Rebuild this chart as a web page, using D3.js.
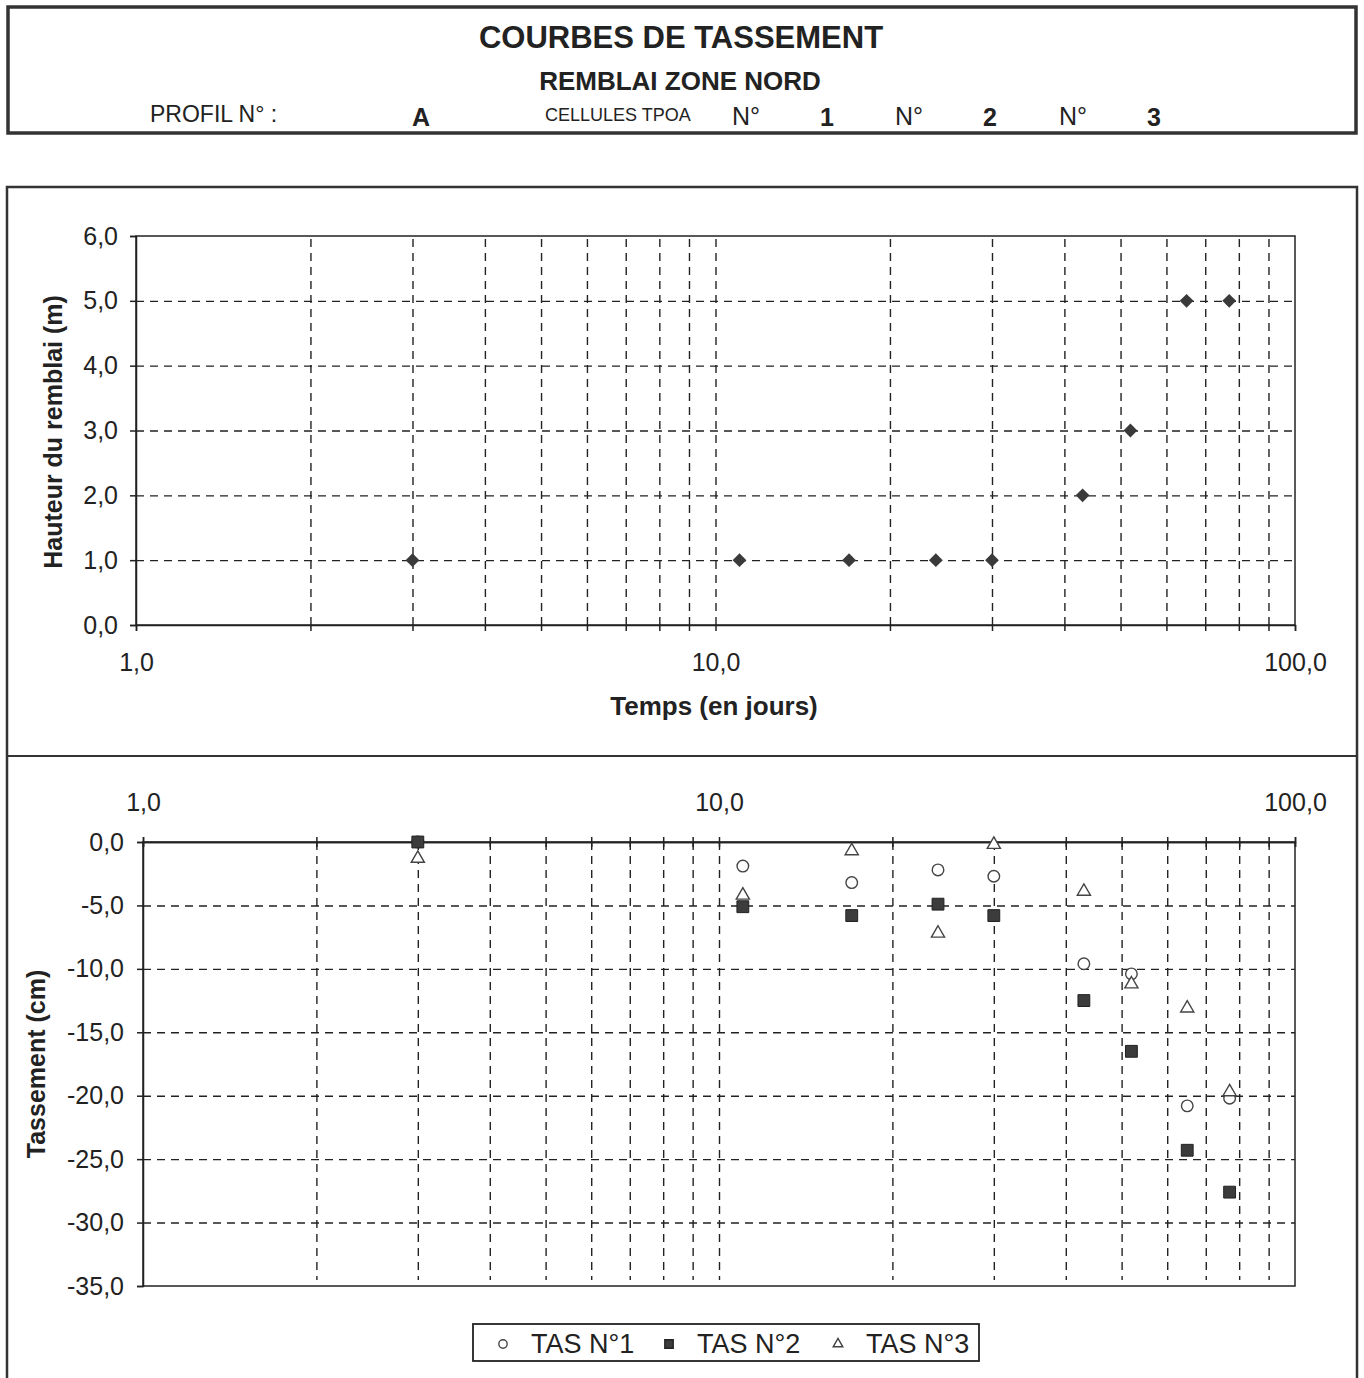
<!DOCTYPE html>
<html>
<head>
<meta charset="utf-8">
<script src="https://d3js.org/d3.v7.min.js"></script>
<style>
  body {
    margin: 0;
    background-color: white;
  }

  svg {
    font-family: 'Liberation Sans', Arial, sans-serif;
    fill: #222;
  }

  .grid line {
    stroke: #222;
    stroke-width: 1.4px;
    stroke-dasharray: 8, 6;
  }

  .grid path {
    display: none;
  }

  .axis path,
  .axis line {
    stroke: #222;
    stroke-width: 1.5px;
  }

  .axis text {
    font-size: 25px;
    fill: #222;
  }
</style>
</head>

<body>
  <svg width=1364 height=1378></svg>
  <script>
    // values
    var days = [3, 11, 17, 24, 30, 43, 52, 65, 77];
    var hauteur = [1, 1, 1, 1, 1, 2, 3, 5, 5];
    var tas1 = [0, -1.9, -3.2, -2.2, -2.7, -9.6, -10.4, -20.8, -20.2];
    var tas2 = [0, -5.1, -5.8, -4.9, -5.8, -12.5, -16.5, -24.3, -27.6];
    var tas3 = [-1.3, -4.2, -0.7, -7.2, -0.2, -3.9, -11.2, -13.1, -19.7];

    var xDecades = [1, 10, 100];
    var yTicksTop = [0, 1, 2, 3, 4, 5, 6];
    var yTicksBottom = [0, -5, -10, -15, -20, -25, -30, -35];
    var legendLabels = ['TAS N°1', 'TAS N°2', 'TAS N°3'];

    var svg = d3.select('svg');
    var comma = function (d) { return d3.format('.1f')(d).replace('.', ',').replace('−', '-'); };

    // ---------- header box ----------
    svg.append('rect')
      .attr('x', 8).attr('y', 7).attr('width', 1348).attr('height', 126)
      .attr('fill', 'none').attr('stroke', '#333').attr('stroke-width', 3.5);

    svg.append('text').attr('x', 681).attr('y', 48).attr('text-anchor', 'middle')
      .style('font-size', '31px').style('font-weight', 'bold').text('COURBES DE TASSEMENT');
    svg.append('text').attr('x', 680).attr('y', 90).attr('text-anchor', 'middle')
      .style('font-size', '26px').style('font-weight', 'bold').text('REMBLAI ZONE NORD');

    svg.append('text').attr('x', 150).attr('y', 122).style('font-size', '23px').text('PROFIL N° :');
    svg.append('text').attr('x', 421).attr('y', 126).attr('text-anchor', 'middle')
      .style('font-size', '25px').style('font-weight', 'bold').text('A');
    svg.append('text').attr('x', 545).attr('y', 121).style('font-size', '18px').text('CELLULES TPOA');

    var cells = [['N°', '1', 746, 827], ['N°', '2', 909, 990], ['N°', '3', 1073, 1154]];
    cells.forEach(function (c) {
      svg.append('text').attr('x', c[2]).attr('y', 125).attr('text-anchor', 'middle')
        .style('font-size', '25px').text(c[0]);
      svg.append('text').attr('x', c[3]).attr('y', 126).attr('text-anchor', 'middle')
        .style('font-size', '25px').style('font-weight', 'bold').text(c[1]);
    });

    // ---------- chart frame ----------
    svg.append('rect')
      .attr('x', 7).attr('y', 187).attr('width', 1350).attr('height', 1200)
      .attr('fill', 'none').attr('stroke', '#333').attr('stroke-width', 2.5);
    svg.append('line')
      .attr('x1', 7).attr('x2', 1357).attr('y1', 756).attr('y2', 756)
      .attr('stroke', '#333').attr('stroke-width', 2);

    // ---------- top chart : hauteur du remblai ----------
    var x1 = d3.scaleLog().domain([1, 100]).range([136, 1295]);
    var y1 = d3.scaleLinear().domain([0, 6]).range([625, 236]);

    // gridlines
    svg.append('g').attr('class', 'grid')
      .attr('transform', 'translate(0,625)')
      .call(d3.axisBottom(x1).tickValues(x1.ticks().filter(function (d) { return d > 1 && d < 100; }))
        .tickSize(-389).tickFormat(''));
    svg.append('g').attr('class', 'grid')
      .attr('transform', 'translate(136,0)')
      .call(d3.axisLeft(y1).tickValues(yTicksTop.slice(1, 6)).tickSize(-1159).tickFormat(''));

    // axes
    svg.append('g').attr('class', 'axis')
      .attr('transform', 'translate(0,625)')
      .call(d3.axisBottom(x1).tickValues(x1.ticks()).tickSize(6).tickPadding(22)
        .tickFormat(function (d) { return xDecades.indexOf(d) >= 0 ? comma(d) : ''; }));
    svg.append('g').attr('class', 'axis')
      .attr('transform', 'translate(136,0)')
      .call(d3.axisLeft(y1).tickValues(yTicksTop).tickSize(6).tickPadding(12).tickFormat(comma));

    svg.append('rect')
      .attr('x', 136).attr('y', 236).attr('width', 1159).attr('height', 389)
      .attr('fill', 'none').attr('stroke', '#222').attr('stroke-width', 1.5);

    svg.append('text')
      .attr('transform', 'translate(62,432) rotate(-90)')
      .attr('text-anchor', 'middle')
      .style('font-size', '25px').style('font-weight', 'bold')
      .text('Hauteur du remblai (m)');
    svg.append('text')
      .attr('x', 714).attr('y', 715).attr('text-anchor', 'middle')
      .style('font-size', '26px').style('font-weight', 'bold')
      .text('Temps (en jours)');

    // diamonds (square turned 45°)
    svg.append('g').selectAll('path')
      .data(days.map(function (d, i) { return { t: d, h: hauteur[i] }; }))
      .enter()
      .append('path')
      .attr('d', d3.symbol().type(d3.symbolSquare).size(95))
      .attr('transform', function (d) { return 'translate(' + x1(d.t) + ',' + y1(d.h) + ') rotate(45)'; })
      .attr('fill', '#3a3a3a');

    // ---------- bottom chart : tassement ----------
    var x2 = d3.scaleLog().domain([1, 100]).range([143, 1295]);
    var y2 = d3.scaleLinear().domain([-35, 0]).range([1286, 842]);

    svg.append('g').attr('class', 'grid')
      .attr('transform', 'translate(0,842)')
      .call(d3.axisBottom(x2).tickValues(x2.ticks().filter(function (d) { return d > 1 && d < 100; }))
        .tickSize(438).tickFormat(''));
    svg.append('g').attr('class', 'grid')
      .attr('transform', 'translate(143,0)')
      .call(d3.axisLeft(y2).tickValues(yTicksBottom.slice(1, 7)).tickSize(-1152).tickFormat(''));

    svg.append('g').attr('class', 'axis')
      .attr('transform', 'translate(0,842)')
      .call(d3.axisTop(x2).tickValues(x2.ticks()).tickSize(5).tickPadding(26)
        .tickFormat(function (d) { return xDecades.indexOf(d) >= 0 ? comma(d) : ''; }));
    svg.append('g').attr('class', 'axis')
      .attr('transform', 'translate(0,842)')
      .call(d3.axisBottom(x2).tickValues(x2.ticks()).tickSize(5).tickFormat(''));
    svg.append('g').attr('class', 'axis')
      .attr('transform', 'translate(143,0)')
      .call(d3.axisLeft(y2).tickValues(yTicksBottom).tickSize(6).tickPadding(13).tickFormat(comma));

    svg.append('rect')
      .attr('x', 143).attr('y', 842).attr('width', 1152).attr('height', 444)
      .attr('fill', 'none').attr('stroke', '#222').attr('stroke-width', 1.5);

    svg.append('text')
      .attr('transform', 'translate(45,1064) rotate(-90)')
      .attr('text-anchor', 'middle')
      .style('font-size', '25px').style('font-weight', 'bold')
      .text('Tassement (cm)');

    var circleSym = d3.symbol().type(d3.symbolCircle);
    var squareSym = d3.symbol().type(d3.symbolSquare);
    var triSym = d3.symbol().type(d3.symbolTriangle);

    function pts(vals) {
      return days.map(function (d, i) { return { t: d, v: vals[i] }; });
    }
    function place(d) { return 'translate(' + x2(d.t) + ',' + y2(d.v) + ')'; }

    svg.append('g').selectAll('path').data(pts(tas1)).enter().append('path')
      .attr('d', circleSym.size(105)).attr('transform', place)
      .attr('fill', 'white').attr('stroke', '#444').attr('stroke-width', 1.4);
    svg.append('g').selectAll('path').data(pts(tas3)).enter().append('path')
      .attr('d', triSym.size(75)).attr('transform', place)
      .attr('fill', 'white').attr('stroke', '#444').attr('stroke-width', 1.4);
    svg.append('g').selectAll('path').data(pts(tas2)).enter().append('path')
      .attr('d', squareSym.size(140)).attr('transform', place)
      .attr('fill', '#3c3c3c').attr('stroke', '#222').attr('stroke-width', 1);

    // legend
    var legend = svg.append('g');
    legend.append('rect')
      .attr('x', 473).attr('y', 1324).attr('width', 506).attr('height', 37)
      .attr('fill', 'white').attr('stroke', '#222').attr('stroke-width', 1.8);
    var legX = [503, 669, 838];
    var legSym = [
      { d: d3.symbol().type(d3.symbolCircle).size(55)(), fill: 'white', stroke: '#444' },
      { d: d3.symbol().type(d3.symbolSquare).size(70)(), fill: '#3c3c3c', stroke: '#222' },
      { d: d3.symbol().type(d3.symbolTriangle).size(40)(), fill: 'white', stroke: '#444' }
    ];
    legendLabels.forEach(function (lab, i) {
      legend.append('path').attr('d', legSym[i].d)
        .attr('transform', 'translate(' + legX[i] + ',1344)')
        .attr('fill', legSym[i].fill).attr('stroke', legSym[i].stroke).attr('stroke-width', 1.4);
      legend.append('text').attr('x', legX[i] + 28).attr('y', 1353)
        .style('font-size', '27px').text(lab);
    });
  </script>
</body>

</html>
